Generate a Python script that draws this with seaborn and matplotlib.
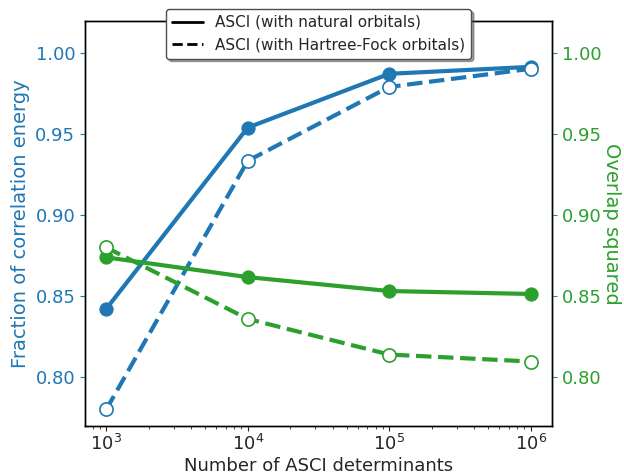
import matplotlib
matplotlib.use("Agg")
import matplotlib.pyplot as plt
from matplotlib.lines import Line2D
import seaborn as sns
import numpy as np

# Data
n_dets = [1e3, 1e4, 1e5, 1e6]
frac_natural = [0.8423, 0.9542, 0.9874, 0.9917]
frac_hf = [0.7802, 0.9337, 0.9793, 0.9905]
overlap_natural = [0.8741, 0.8619, 0.8533, 0.8515]
overlap_hf = [0.8802, 0.8361, 0.8141, 0.8098]
legend_labels = ["ASCI (with natural orbitals)", "ASCI (with Hartree-Fock orbitals)"]

blue = "#1f77b4"
green = "#2ca02c"

sns.set_style("ticks")
plt.rcParams["font.family"] = ["DejaVu Sans"]

bottom_px = 426
fig = plt.figure(figsize=(6.24, 4.76), dpi=100)
ax = fig.add_axes([85/624, 1-bottom_px/476, (552-85)/624, (bottom_px-21)/476])
ax2 = ax.twinx()

lw = 3
ms = 9.5
sns.lineplot(x=n_dets, y=frac_natural, ax=ax, color=blue, lw=lw, marker="o",
             markersize=ms, markeredgecolor=blue, markerfacecolor=blue)
sns.lineplot(x=n_dets, y=frac_hf, ax=ax, color=blue, lw=lw, linestyle="--", marker="o",
             markersize=ms, markeredgecolor=blue, markerfacecolor="white", markeredgewidth=1.2)
sns.lineplot(x=n_dets, y=overlap_natural, ax=ax2, color=green, lw=lw, marker="o",
             markersize=ms, markeredgecolor=green, markerfacecolor=green)
sns.lineplot(x=n_dets, y=overlap_hf, ax=ax2, color=green, lw=lw, linestyle="--", marker="o",
             markersize=ms, markeredgecolor=green, markerfacecolor="white", markeredgewidth=1.2)

ax.set_xscale("log")
ax.set_xlim(10**2.85, 10**6.15)
for a in (ax, ax2):
    a.set_ylim(0.77, 1.02)
    a.set_yticks([0.80, 0.85, 0.90, 0.95, 1.00])
    a.set_yticklabels(["0.80", "0.85", "0.90", "0.95", "1.00"])

ax.tick_params(axis="x", labelsize=13, direction="out", pad=2.5)
ax.tick_params(axis="y", labelsize=13, labelcolor=blue, color=blue)
ax2.tick_params(axis="y", labelsize=13, labelcolor=green, color=green)

ax.set_xlabel("Number of ASCI determinants", fontsize=13, va="bottom")
ax.xaxis.set_label_coords(0.5, (bottom_px - 475) / (bottom_px - 21))
ax.set_ylabel("Fraction of correlation energy", fontsize=14, color=blue)
ax2.set_ylabel("Overlap squared", fontsize=14, color=green, rotation=270,
               va="center", ha="center")
ax2.yaxis.set_label_coords((612 - 85) / 467, 0.5)

for a in (ax, ax2):
    for s in a.spines.values():
        s.set_color("black")
        s.set_linewidth(1.0)

handles = [Line2D([0], [0], color="black", lw=2, ls="-"),
           Line2D([0], [0], color="black", lw=2, ls="--")]
leg = ax2.legend(handles, legend_labels, loc="upper center", bbox_to_anchor=(0.5, 1.03),
                 borderaxespad=0, fontsize=11, shadow=True, fancybox=True, framealpha=1)
leg.get_frame().set_edgecolor("0.3")

fig.savefig("out.png", dpi=100)
